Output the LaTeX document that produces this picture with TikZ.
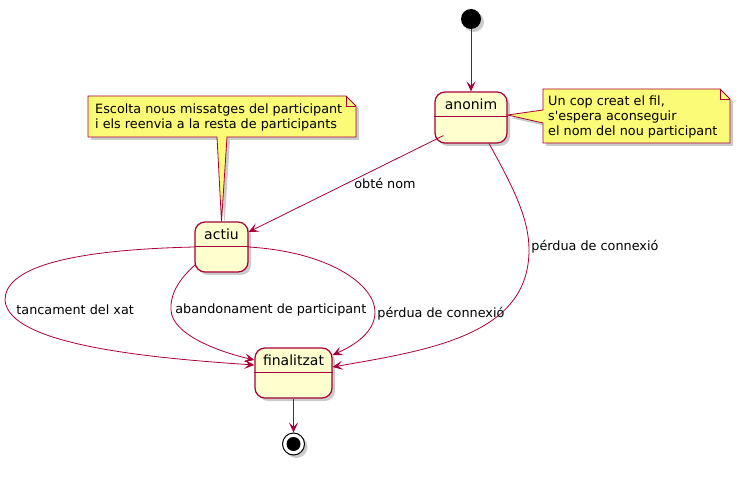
\documentclass[tikz,border=0pt]{standalone}
\usepackage{fontspec}
\setmainfont{DejaVu Sans}[Ligatures=TeXOff]
\usetikzlibrary{arrows.meta,shadows}
\definecolor{umlred}{HTML}{A80036}
\definecolor{statefill}{HTML}{FEFECE}
\definecolor{notefill}{HTML}{FBFB77}
\tikzset{
  shade3/.style={drop shadow={shadow xshift=3pt,shadow yshift=-3pt,fill=black!45,opacity=.45}},
  state/.style={draw=umlred,fill=statefill,line width=1.2pt,rounded corners=10pt,inner sep=0pt,shade3},
  statename/.style={anchor=north,yshift=-4pt,font=\fontsize{14}{16}\selectfont,inner sep=3pt},
  edge/.style={draw=umlred,line width=0.8pt,-{Stealth[length=10pt,width=9pt,inset=4.5pt]}},
  lbl/.style={font=\fontsize{12.8}{15}\selectfont,inner sep=2pt},
  note/.style={draw=umlred,fill=notefill,line width=0.8pt,shade3},
  notetext/.style={font=\fontsize{12.8}{15}\selectfont,align=left,anchor=west,inner sep=0pt},
}
\begin{document}
\begin{tikzpicture}[x=1pt,y=-1pt]
  \useasboundingbox (0,0) rectangle (741,489);
  % states
  \node[circle,fill=black,minimum size=20pt,inner sep=0pt,shade3] (start) at (471,19) {};
  \node[state,minimum width=72pt,minimum height=51pt,label={[statename]north:anonim}] (anonim) at (471,117.5) {};
  \node[state,minimum width=53pt,minimum height=50pt,label={[statename]north:actiu}] (actiu) at (221.5,247) {};
  \node[state,minimum width=77pt,minimum height=50pt,label={[statename]north:finalitzat}] (finalitzat) at (293.5,373) {};
  \node[circle,draw=black,line width=1pt,fill=white,minimum size=22pt,inner sep=0pt,shade3,
        path picture={\fill[black] (path picture bounding box.center) circle (7pt);}] (stop) at (293.5,444) {};
  \foreach \s in {anonim,actiu,finalitzat}
    \draw[umlred,line width=1.2pt] ([yshift=-25pt]\s.north west) -- ([yshift=-25pt]\s.north east);

  % transitions
  \draw[edge] (start) -- (anonim);
  \draw[edge] ([shift={(9,-8)}]anonim.south west) -- node[lbl,pos=0.3,yshift=-19pt]{obté nom} ([yshift=15pt]actiu.east);
  \draw[edge] ([xshift=18pt]anonim.south) .. controls (515,190) and (529,220) .. (529,250)
    node[lbl,anchor=west,at end,yshift=3pt]{pérdua de connexió}
    .. controls (529,335) and (430,350) .. ([yshift=6pt]finalitzat.east);
  \draw[edge] (actiu.west) .. controls (60,250) and (5,270) .. (5,300)
    node[lbl,anchor=west,at end,xshift=9pt,yshift=-10pt]{tancament del xat}
    .. controls (8,345) and (150,358) .. ([yshift=8pt]finalitzat.west);
  \draw[edge] ([shift={(1,-8)}]actiu.south west) .. controls (178,280) and (170,295) .. (171,310)
    node[lbl,anchor=west,at end,xshift=2pt]{abandonament de participant}
    .. controls (172,335) and (220,352) .. ([yshift=13pt]finalitzat.west);
  \draw[edge] (actiu.east) .. controls (330,252) and (375,285) .. (375,312)
    node[lbl,anchor=west,at end,yshift=-2pt]{pérdua de connexió}
    .. controls (375,332) and (355,345) .. ([yshift=18pt]finalitzat.east);
  \draw[edge] (finalitzat) -- (stop);

  % notes
  \path[note] (88,96) -- (346,96) -- (356,106) -- (356,137) -- (227,137) -- (actiu.north)
    -- (217,137) -- (88,137) -- cycle;
  \draw[umlred,line width=0.8pt] (346,96) -- (346,106) -- (356,106);
  \node[notetext] (noteactiu) at (95,117) {Escolta nous missatges del participant\\i els reenvia a la resta de participants};
  \path[note] (543,89) -- (720,89) -- (730,99) -- (730,143) -- (543,143) -- (543,123)
    -- ([yshift=2.5pt]anonim.east) -- (543,110) -- cycle;
  \draw[umlred,line width=0.8pt] (720,89) -- (720,99) -- (730,99);
  \node[notetext] (noteanonim) at (548,117) {Un cop creat el fil,\\s'espera aconseguir\\el nom del nou participant};
\end{tikzpicture}
\end{document}
